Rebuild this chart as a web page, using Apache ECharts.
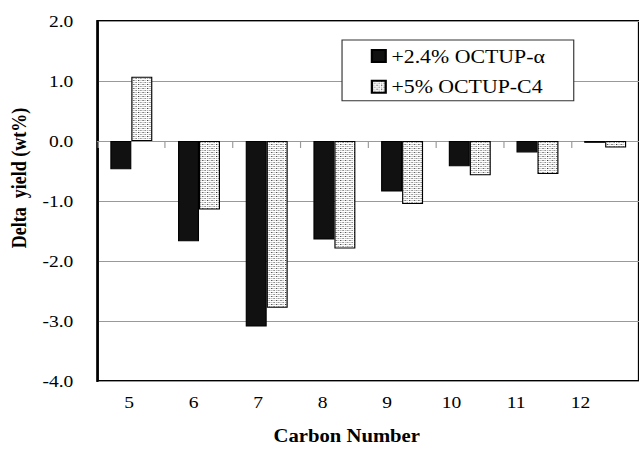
<!DOCTYPE html>
<html><head><meta charset="utf-8">
<script src="https://cdn.jsdelivr.net/npm/echarts@6/dist/echarts.min.js"></script>
<style>
html,body{margin:0;padding:0;background:#fff;overflow:hidden}
#wrap{width:639px;height:450px;overflow:hidden;position:relative}
#chart{width:556px;height:450px;transform:scaleX(1.1493);transform-origin:0 0}
</style></head>
<body><div id="wrap"><div id="chart"></div></div>
<script>
// ---- data ----
const categories = ['5', '6', '7', '8', '9', '10', '11', '12'];
const octupAlpha = [-0.47, -1.67, -3.09, -1.64, -0.84, -0.42, -0.19, -0.03];
const octupC4 = [1.07, -1.14, -2.78, -1.79, -1.05, -0.57, -0.55, -0.11];
const seriesNames = ['+2.4% OCTUP-\u03B1', '+5% OCTUP-C4'];
const yMin = -4, yMax = 2, yStep = 1;

const font = 'Liberation Serif';

function makePattern() {
  const c = document.createElement('canvas');
  c.width = 4; c.height = 4;
  const g = c.getContext('2d');
  g.fillStyle = '#fff'; g.fillRect(0, 0, 4, 4);
  g.fillStyle = '#333'; g.fillRect(0, 0, 1, 1);
  g.fillStyle = '#555'; g.fillRect(2, 2, 1, 1);
  g.fillStyle = '#aaa'; g.fillRect(2, 0, 1, 1); g.fillRect(0, 2, 1, 1);
  return c.toDataURL();
}
const pat = makePattern();

const chart = echarts.init(document.getElementById('chart'), null, {renderer: 'svg', width: 556, height: 450});
chart.setOption({
  animation: false,
  backgroundColor: '#fff',
  textStyle: {fontFamily: font, color: '#000'},
  grid: [
    {left: 83.5, right: -1, top: 21, bottom: 69, show: true, borderColor: '#000', borderWidth: 2},
    {left: 84.2, right: 22.8, top: 21, bottom: 69, show: false}
  ],
  xAxis: [
    {type: 'category', data: categories, gridIndex: 0, position: 'bottom',
     axisLine: {show: true, onZero: true, lineStyle: {color: '#999', width: 1}},
     axisTick: {show: true, alignWithLabel: false, length: 7, lineStyle: {color: '#999'}},
     axisLabel: {show: false}, splitLine: {show: false}},
    {type: 'category', data: categories, gridIndex: 1, position: 'bottom',
     axisLine: {show: false}, axisTick: {show: false},
     axisLabel: {fontSize: 17, margin: 16, color: '#000', fontFamily: font},
     name: 'Carbon Number', nameLocation: 'middle', nameGap: 49,
     nameTextStyle: {fontWeight: 'bold', fontSize: 18, fontFamily: font, color: '#000', padding: [0, 14, 0, 0]}}
  ],
  yAxis: [
    {type: 'value', gridIndex: 0, min: yMin, max: yMax, interval: yStep,
     axisLine: {show: true, onZero: false, lineStyle: {color: '#000', width: 2}},
     axisTick: {show: false},
     axisLabel: {formatter: v => v.toFixed(1), fontSize: 17, margin: 21, color: '#000', fontFamily: font},
     splitLine: {show: true, lineStyle: {color: '#999', width: 1}},
     name: 'Delta  yield (wt%)', nameLocation: 'middle', nameGap: 56,
     nameTextStyle: {fontWeight: 'bold', fontSize: 18, fontFamily: font, color: '#000', padding: [0, 0, 0, 46]}},
    {type: 'value', gridIndex: 1, min: yMin, max: yMax, show: false}
  ],
  legend: {
    orient: 'vertical', left: 297.6, top: 40, padding: [6, 25, 4, 25], itemGap: 10.7,
    itemWidth: 12, itemHeight: 12, icon: 'rect',
    borderColor: '#333', borderWidth: 1, backgroundColor: '#fff',
    textStyle: {fontSize: 19, fontFamily: font, color: '#000', lineHeight: 20},
    data: seriesNames
  },
  series: [
    {type: 'bar', name: seriesNames[0], data: octupAlpha, xAxisIndex: 0, yAxisIndex: 0,
     barGap: '0%', barCategoryGap: '38%',
     itemStyle: {color: '#111', borderColor: '#000', borderWidth: 1}},
    {type: 'bar', name: seriesNames[1], data: octupC4, xAxisIndex: 0, yAxisIndex: 0,
     barGap: '0%', barCategoryGap: '38%',
     itemStyle: {color: {image: pat, repeat: 'repeat', imageWidth: 4, imageHeight: 4}, borderColor: '#000', borderWidth: 1}}
  ]
});
</script></body></html>
